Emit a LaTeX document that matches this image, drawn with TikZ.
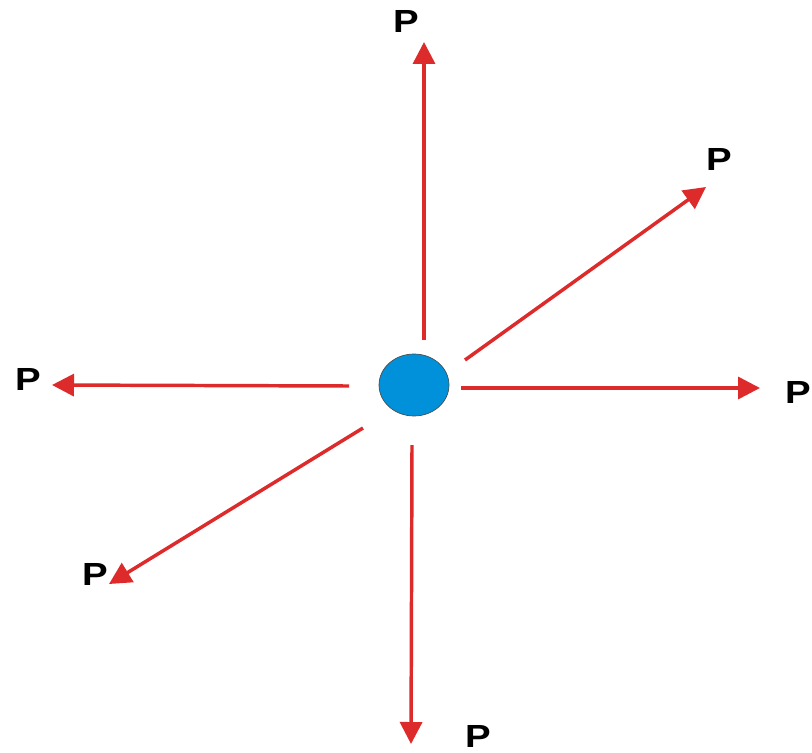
\documentclass[tikz,border=0pt]{standalone}
\usepackage{fontspec}
\setmainfont{Liberation Sans}
\usetikzlibrary{arrows.meta,shapes.geometric}
\definecolor{forcered}{RGB}{221,42,42}
\definecolor{ballblue}{RGB}{0,145,218}
\tikzset{
  force/.style={draw=forcered,line width=2.6pt,-{Triangle[length=16.5pt,width=16.5pt]}},
  ball/.style={ellipse,draw=black!70,line width=0.5pt,fill=ballblue,minimum width=52.5pt,minimum height=46.5pt,inner sep=0pt},
  load/.style={inner sep=0pt,font=\fontsize{24}{24}\selectfont\bfseries}
}
\newcommand{\wideP}{\scalebox{1.2}[1]{P}}
\begin{document}
\begin{tikzpicture}[x=0.75pt,y=-0.75pt]
\useasboundingbox (0,0) rectangle (812,752);
\node[ball] (ball) at (414,385) {};
% seven loads round the ball
\foreach \n/\sx/\sy/\tx/\ty in {up/424/340/424/42,ur/465/360/706/187,rt/461/388/760/388,lt/349/386/52/385,dl/363/428/109/584,dn/412/445/411/744}{
\coordinate (s\n) at (\sx,\sy);
\coordinate (t\n) at (\tx,\ty);
\draw[force] (s\n) -- (t\n);
}
\node[load] (pup) at (406,21) {\wideP};
\node[load] (pur) at (719,159) {\wideP};
\node[load] (prt) at (798,392) {\wideP};
\node[load] (plt) at (28,379) {\wideP};
\node[load] (pdl) at (95,574) {\wideP};
\node[load] (pdn) at (478,736) {\wideP};
\end{tikzpicture}
\end{document}
